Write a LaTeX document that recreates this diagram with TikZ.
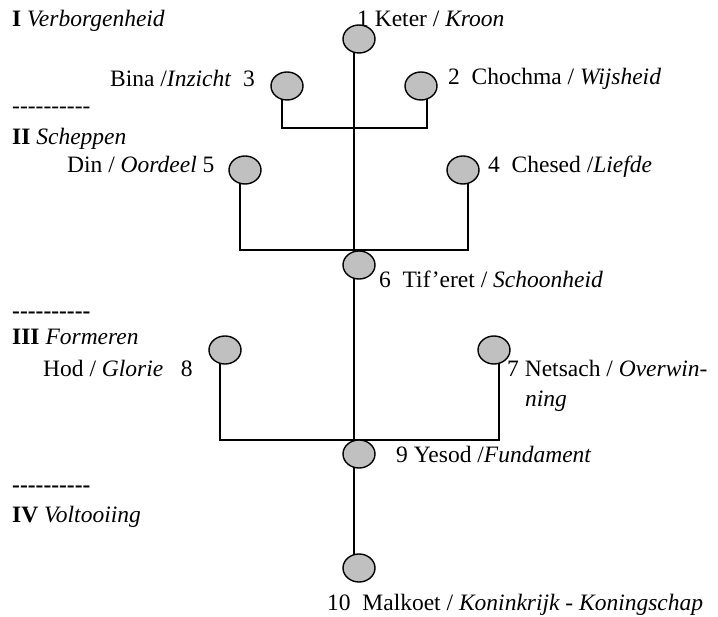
\documentclass[tikz,border=0pt]{standalone}
\usepackage{fontspec}
\setmainfont{Liberation Serif}
\usetikzlibrary{shapes.geometric}
\pgfdeclarelayer{bg}
\pgfsetlayers{bg,main}
\definecolor{sefgray}{RGB}{192,192,192}
\newcommand\hyrow{-\kern0pt-\kern0pt-\kern0pt-\kern0pt-\kern0pt-\kern0pt-\kern0pt-\kern0pt-\kern0pt-}
\begin{document}
\begin{tikzpicture}[x=1pt,y=-1pt,
  sefira/.style={ellipse,draw=black,line width=1.4pt,fill=sefgray,minimum width=32pt,minimum height=28pt,inner sep=0pt},
  lbl/.style={anchor=base west,inner sep=0pt,font=\fontsize{23.5}{27}\selectfont},
  thinline/.style={line width=1.3pt},
  brack/.style={line width=2pt},
  thick trunk/.style={line width=2.3pt}]
\useasboundingbox (0,0) rectangle (718,617);
% sefirot
\node[sefira] (n1) at (359,39) {};
\node[sefira] (n2) at (421,86) {};
\node[sefira] (n3) at (287,86) {};
\node[sefira] (n4) at (463,170) {};
\node[sefira] (n5) at (245,170) {};
\node[sefira] (n6) at (359,265) {};
\node[sefira] (n7) at (494,350) {};
\node[sefira] (n8) at (225,350) {};
\node[sefira] (n9) at (359,454) {};
\node[sefira] (n10) at (359,568) {};
% connectors
\begin{pgfonlayer}{bg}
\draw[thinline] ([xshift=-5pt]n1.center) -- ([xshift=-5pt]n6.center);
\draw[thick trunk] ([xshift=-5pt]n6.center) -- ([xshift=-5pt]n9.center);
\draw[thick trunk] ([xshift=-5pt]n9.center) -- ([xshift=-5pt]n10.center);
\draw[brack] ([xshift=-5pt]n3.center) -- ++(0,42) -| ([xshift=6pt]n2.center);
\draw[brack] ([xshift=-5pt]n5.center) -- ++(0,80) -| ([xshift=5pt]n4.center);
\draw[brack] ([xshift=-5pt]n8.center) -- ++(0,90) -| ([xshift=5pt]n7.center);
\end{pgfonlayer}
% labels
\node[lbl] (w1) at (12,27) {\textbf{I} \textit{Verborgenheid}};
\node[lbl] (t3) at (110,87) {Bina /\textit{Inzicht}\ \ 3};
\node[lbl] (d1) at (12,114) {\hyrow};
\node[lbl] (w2) at (12,145) {\textbf{II} \textit{Scheppen}};
\node[lbl] (t5) at (67,173) {Din / \textit{Oordeel} 5};
\node[lbl] (t1) at (357,27) {1 Keter / \textit{Kroon}};
\node[lbl] (t2) at (448,85) {2\ \ Chochma / \textit{Wijsheid}};
\node[lbl] (t4) at (488,173) {4\ \ Chesed /\textit{Liefde}};
\node[lbl] (t6) at (379,288) {6\ \ Tif’eret / \textit{Schoonheid}};
\node[lbl] (d2) at (12,319) {\textbf{\hyrow}};
\node[lbl] (w3) at (12,345) {\textbf{III} \textit{Formeren}};
\node[lbl] (t8) at (43,377) {Hod / \textit{Glorie}\ \ \ 8};
\node[lbl] (t7) at (507,377) {7 Netsach / \textit{Overwin-}};
\node[lbl] (t7b) at (525,407) {\textit{ning}};
\node[lbl] (t9) at (396,463) {9 Yesod /\textit{Fundament}};
\node[lbl] (d3) at (12,493) {\textbf{\hyrow}};
\node[lbl] (w4) at (12,522) {\textbf{IV} \textit{Voltooiing}};
\node[lbl] (t10) at (327,610) {10\ \ Malkoet / \textit{Koninkrijk - Koningschap}};
\end{tikzpicture}
\end{document}
